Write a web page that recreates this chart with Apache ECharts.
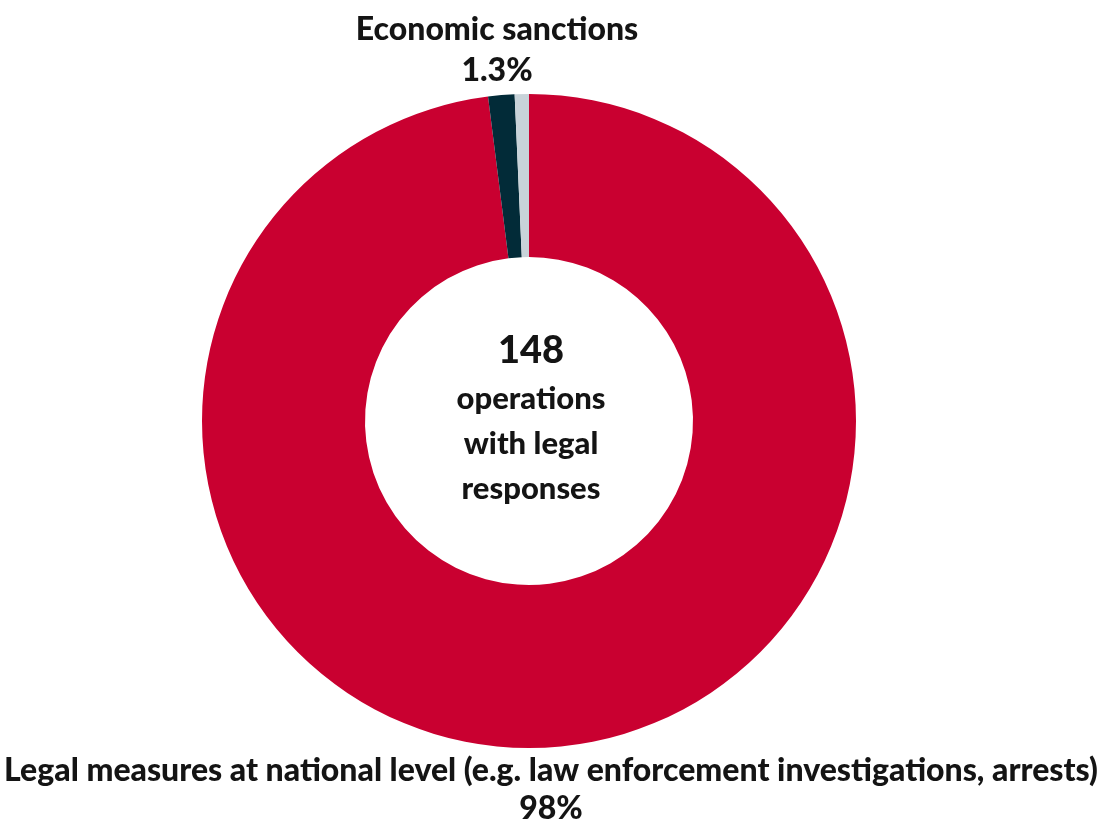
<!DOCTYPE html>
<html>
<head>
<meta charset="utf-8">
<script src="https://cdn.jsdelivr.net/npm/echarts@6/dist/echarts.min.js"></script>
<style>
  html, body { margin: 0; padding: 0; background: #ffffff; }
  #chart { width: 1101px; height: 823px; }
</style>
</head>
<body>
<div id="chart"></div>
<script>
// Shares of legal responses (percent)
const categories = [
  'Legal measures at national level (e.g. law enforcement investigations, arrests)',
  'Economic sanctions',
  'Other'
];
const shares = [98, 1.3, 0.7];
const sliceColors = ['#C90030', '#022B38', '#C8D3D9'];
const totalOperations = 148;
const centerLines = ['operations', 'with legal', 'responses'];

const FONT = 'Lato, "Open Sans", sans-serif';
const TEXT = '#141414';

const chart = echarts.init(document.getElementById('chart'));
chart.setOption({
  backgroundColor: '#ffffff',
  animation: false,
  title: [
    {
      text: categories[1] + '\n' + shares[1] + '%',
      left: 492, textAlign: 'center', top: 4, padding: 5,
      textStyle: { fontFamily: FONT, fontWeight: 900, fontSize: 32, color: TEXT, lineHeight: 41 }
    },
    {
      text: categories[0] + '\n' + shares[0] + '%',
      left: 546, textAlign: 'center', top: 747, padding: 5,
      textStyle: { fontFamily: FONT, fontWeight: 900, fontSize: 32, color: TEXT, lineHeight: 38 }
    },
    {
      text: '{big|' + totalOperations + '}\n{small|' + centerLines.join('}\n{small|') + '}',
      left: 526, textAlign: 'center', top: 320, padding: 5,
      textStyle: {
        fontFamily: FONT, fontWeight: 900, color: TEXT,
        rich: {
          big: { fontFamily: FONT, fontWeight: 900, fontSize: 38, lineHeight: 51, color: TEXT },
          small: { fontFamily: FONT, fontWeight: 900, fontSize: 31, lineHeight: 45, color: TEXT }
        }
      }
    }
  ],
  series: [{
    type: 'pie',
    center: [529, 421],
    radius: [164, 327],
    startAngle: 90,
    clockwise: true,
    label: { show: false },
    labelLine: { show: false },
    emphasis: { disabled: true },
    itemStyle: { borderWidth: 0 },
    data: categories.map((name, i) => ({
      name: name,
      value: shares[i],
      itemStyle: { color: sliceColors[i] }
    }))
  }]
});
</script>
</body>
</html>
